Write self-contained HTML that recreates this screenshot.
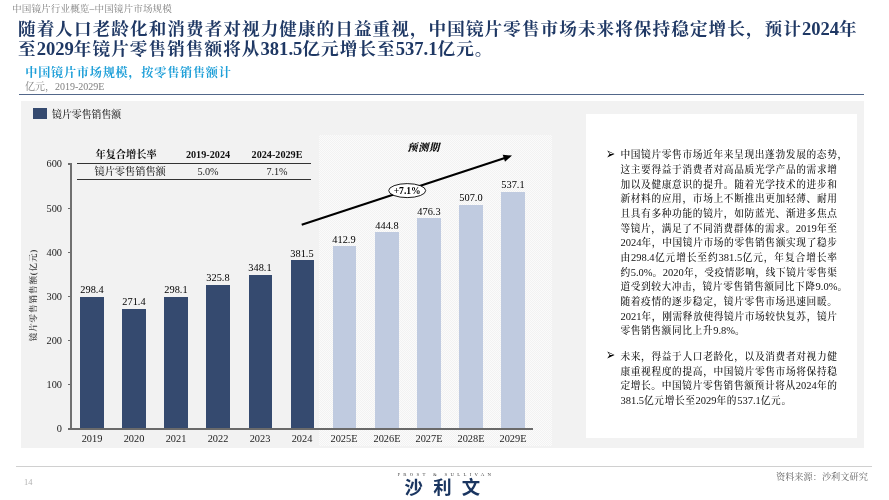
<!DOCTYPE html>
<html lang="zh-CN">
<head>
<meta charset="utf-8">
<title>中国镜片市场规模</title>
<style>
*{margin:0;padding:0;box-sizing:border-box}
html,body{width:889px;height:500px;background:#fff;overflow:hidden}
body{position:relative;font-family:"Liberation Serif","Noto Serif CJK SC",serif;color:#000}
.abs{position:absolute;white-space:nowrap}
#crumb{left:12px;top:2px;font-size:9.6px;line-height:14px;color:#7f7f7f;letter-spacing:0.1px}
#title{left:18px;top:18.7px;width:860px;font-size:17.6px;line-height:20.5px;font-weight:700;color:#1f3864;letter-spacing:1.07px}
#title div{height:20.5px;white-space:nowrap}
#title b{font-size:18.6px;letter-spacing:0;font-weight:700;line-height:20.5px;vertical-align:baseline}
#sub{left:25.3px;top:64.2px;font-size:12.1px;line-height:18px;font-weight:bold;color:#1e9fd8;letter-spacing:0.8px}
#unit{left:25px;top:80px;font-size:10px;line-height:14px;color:#7f7f7f}
#rule{left:19px;top:93.9px;width:845.2px;height:1.1px;background:#52678a}
#panel{left:21px;top:101px;width:843px;height:346.5px;background:#f2f2f2}
#fc{left:319.4px;top:135px;width:232.4px;height:311px;background-color:#f2f2f2;background-image:linear-gradient(45deg,#fbfbfb 25%,rgba(255,255,255,0) 25%,rgba(255,255,255,0) 75%,#fbfbfb 75%),linear-gradient(45deg,#fbfbfb 25%,rgba(255,255,255,0) 25%,rgba(255,255,255,0) 75%,#fbfbfb 75%);background-size:2px 2px;background-position:0 0,1px 1px}
#white{left:586px;top:114px;width:271px;height:324px;background:#fff}
#lgsq{left:33px;top:108px;width:14px;height:11px;background:#354a6f}
#lgtx{left:52px;top:106.7px;font-size:9.9px;line-height:15px;color:#1a1a1a;letter-spacing:0px;font-weight:500}
.bar{position:absolute;width:23.6px;background:#354a6f}
.bar.l{background:#c0cbe0}
.v{position:absolute;width:42px;text-align:center;font-size:11.2px;line-height:12px;color:#000;transform:scaleX(0.925)}
.x{position:absolute;width:42px;text-align:center;font-size:11.2px;line-height:12px;color:#1c1c1c;top:432.4px;transform:scaleX(0.925)}
.y{position:absolute;width:30px;text-align:right;font-size:11.2px;line-height:12px;color:#1c1c1c;left:32.3px;transform:scaleX(0.925);transform-origin:100% 50%}
.tk{position:absolute;left:67.8px;width:4px;height:1.3px;background:#6a6a6a}
#yax{left:70.4px;top:163.2px;width:1.35px;height:266.3px;background:#707070}
#xax{left:70.4px;top:428.1px;width:463px;height:1.45px;background:#6a6a6a}
#ytitle{left:33px;top:295.2px;width:0;height:0}
#ytitle span{position:absolute;white-space:nowrap;font-size:8.5px;font-weight:600;line-height:10px;transform:translate(-50%,-50%) rotate(-90deg);left:0;top:0;color:#404040;letter-spacing:0.95px}
.th{position:absolute;white-space:nowrap;font-size:10.2px;line-height:14px;font-weight:bold;text-align:center;color:#111}
.td{position:absolute;white-space:nowrap;font-size:10.2px;line-height:14px;text-align:center;color:#222;font-weight:500}
.tl{position:absolute;left:77px;width:234px;height:1.1px;background:#333}
#txt{left:608px;top:148.2px;width:240px;font-size:9.7px;line-height:14.68px;color:#111;font-weight:500;letter-spacing:0.5px;white-space:nowrap}
#txt .p{position:relative;padding-left:12.4px}
#txt .p+.p{margin-top:11.1px}
#txt .ln{width:217.1px;height:14.68px;text-align:justify;text-align-last:justify;white-space:nowrap}
#txt .n{font-size:10.5px;letter-spacing:0}
#txt .h{display:inline-block;width:0;text-align:left;text-align-last:left}
#txt .ln.last{text-align:left;text-align-last:left;letter-spacing:0.62px}
#txt .p i{position:absolute;left:-1.6px;top:-1.6px;font-style:normal;font-size:16px;line-height:14.68px;font-family:"DejaVu Sans",sans-serif;transform:scaleX(0.68);transform-origin:0 50%;color:#000}
#frule{left:16px;top:466px;width:856px;height:1px;background:#d0d0d0}
#pg{left:24px;top:478.1px;font-size:8.4px;line-height:10px;color:#b0b0b0}
#src{left:776px;top:471px;font-size:9.2px;line-height:13px;color:#666}
#fs{left:397.4px;top:470.6px;width:100px;text-align:left;font-size:4.8px;line-height:7px;letter-spacing:3.28px;color:#444}
#slw{left:404.6px;top:478.2px;width:90px;font-family:"Liberation Sans","Noto Sans CJK SC",sans-serif;font-weight:700;font-size:18.4px;line-height:20px;letter-spacing:10.2px;color:#1a3560}
</style>
</head>
<body>
<div id="crumb" class="abs">中国镜片行业概览–中国镜片市场规模</div>
<div id="title" class="abs"><div>随着人口老龄化和消费者对视力健康的日益重视，中国镜片零售市场未来将保持稳定增长，预计<b>2024</b>年</div><div>至<b>2029</b>年镜片零售销售额将从<b>381.5</b>亿元增长至<b>537.1</b>亿元。</div></div>
<div id="sub" class="abs">中国镜片市场规模，按零售销售额计</div>
<div id="unit" class="abs">亿元，2019-2029E</div>
<div id="rule" class="abs"></div>
<div id="panel" class="abs"></div>
<div id="fc" class="abs"></div>
<div id="white" class="abs"></div>
<div id="lgsq" class="abs"></div>
<div id="lgtx" class="abs">镜片零售销售额</div>

<div id="chart">
<div class="tk" style="top:428.3px"></div><div class="y" style="top:422.3px">0</div>
<div class="tk" style="top:384.1px"></div><div class="y" style="top:378.1px">100</div>
<div class="tk" style="top:340.0px"></div><div class="y" style="top:334.0px">200</div>
<div class="tk" style="top:295.8px"></div><div class="y" style="top:289.8px">300</div>
<div class="tk" style="top:251.6px"></div><div class="y" style="top:245.6px">400</div>
<div class="tk" style="top:207.5px"></div><div class="y" style="top:201.5px">500</div>
<div class="tk" style="top:163.3px"></div><div class="y" style="top:157.3px">600</div>
<div class="bar" style="left:80.05px;top:297.0px;height:131.8px"></div>
<div class="v" style="left:70.7px;top:283.3px">298.4</div>
<div class="x" style="left:70.7px">2019</div>
<div class="bar" style="left:122.18px;top:308.9px;height:119.9px"></div>
<div class="v" style="left:112.8px;top:295.2px">271.4</div>
<div class="x" style="left:112.8px">2020</div>
<div class="bar" style="left:164.31px;top:297.1px;height:131.7px"></div>
<div class="v" style="left:154.9px;top:283.4px">298.1</div>
<div class="x" style="left:154.9px">2021</div>
<div class="bar" style="left:206.44px;top:284.9px;height:143.9px"></div>
<div class="v" style="left:197.0px;top:271.2px">325.8</div>
<div class="x" style="left:197.0px">2022</div>
<div class="bar" style="left:248.57px;top:275.1px;height:153.7px"></div>
<div class="v" style="left:239.2px;top:261.4px">348.1</div>
<div class="x" style="left:239.2px">2023</div>
<div class="bar" style="left:290.70px;top:260.3px;height:168.5px"></div>
<div class="v" style="left:281.3px;top:246.6px">381.5</div>
<div class="x" style="left:281.3px">2024</div>
<div class="bar l" style="left:332.83px;top:246.4px;height:182.4px"></div>
<div class="v" style="left:323.4px;top:232.7px">412.9</div>
<div class="x" style="left:323.4px">2025E</div>
<div class="bar l" style="left:374.96px;top:232.3px;height:196.5px"></div>
<div class="v" style="left:365.6px;top:218.6px">444.8</div>
<div class="x" style="left:365.6px">2026E</div>
<div class="bar l" style="left:417.09px;top:218.4px;height:210.4px"></div>
<div class="v" style="left:407.7px;top:204.7px">476.3</div>
<div class="x" style="left:407.7px">2027E</div>
<div class="bar l" style="left:459.22px;top:204.9px;height:223.9px"></div>
<div class="v" style="left:449.8px;top:191.2px">507.0</div>
<div class="x" style="left:449.8px">2028E</div>
<div class="bar l" style="left:501.35px;top:191.6px;height:237.2px"></div>
<div class="v" style="left:492.0px;top:177.9px">537.1</div>
<div class="x" style="left:492.0px">2029E</div>
<div id="yax" class="abs"></div><div id="xax" class="abs"></div>
<div id="ytitle" class="abs"><span>镜片零售销售额(亿元)</span></div>
<div class="th" style="left:95.5px;top:147.9px;width:60px">年复合增长率</div>
<div class="th" style="left:178px;top:147.5px;width:60px">2019-2024</div>
<div class="th" style="left:245px;top:147.5px;width:64px">2024-2029E</div>
<div class="tl" style="top:163.3px"></div><div class="tl" style="top:179px"></div>
<div class="td" style="left:94.5px;top:165.3px;width:70px">镜片零售销售额</div>
<div class="td" style="left:178px;top:164.7px;width:60px">5.0%</div>
<div class="td" style="left:245px;top:164.7px;width:64px">7.1%</div>
<svg class="abs" style="left:0;top:0" width="889" height="500" viewBox="0 0 889 500">
<line x1="301.7" y1="224.8" x2="504.8" y2="158.0" stroke="#000" stroke-width="2.15"/>
<polygon points="512.0,155.6 505.0,161.8 502.7,154.8" fill="#000"/>
<ellipse cx="407.2" cy="190.6" rx="18.5" ry="7" fill="#fff" stroke="#000" stroke-width="0.9"/>
<text x="407.2" y="193.8" text-anchor="middle" font-family="Liberation Serif, serif" font-weight="bold" font-size="9.6px" fill="#000">+7.1%</text>
<text x="423.4" y="151.2" text-anchor="middle" font-family="'Liberation Serif','Noto Serif CJK SC',serif" font-weight="900" font-style="italic" font-size="10.4px" letter-spacing="0.6" fill="#111">预测期</text>
</svg>
</div><!--/chart-->

<div id="txt" class="abs">
<div class="p"><i>➢</i>
<div class="ln">中国镜片零售市场近年来呈现出蓬勃发展的态势<span class="h">，</span></div>
<div class="ln">这主要得益于消费者对高品质光学产品的需求增</div>
<div class="ln">加以及健康意识的提升。随着光学技术的进步和</div>
<div class="ln">新材料的应用，市场上不断推出更加轻薄、耐用</div>
<div class="ln">且具有多种功能的镜片，如防蓝光、渐进多焦点</div>
<div class="ln">等镜片，满足了不同消费群体的需求。<span class="n">2019</span>年至</div>
<div class="ln"><span class="n">2024</span>年，中国镜片市场的零售销售额实现了稳步</div>
<div class="ln">由<span class="n">298.4</span>亿元增长至约<span class="n">381.5</span>亿元，年复合增长率</div>
<div class="ln">约<span class="n">5.0%</span>。<span class="n">2020</span>年，受疫情影响，线下镜片零售渠</div>
<div class="ln">道受到较大冲击，镜片零售销售额同比下降<span class="n">9.0%</span><span class="h">。</span></div>
<div class="ln">随着疫情的逐步稳定，镜片零售市场迅速回暖。</div>
<div class="ln"><span class="n">2021</span>年，刚需释放使得镜片市场较快复苏，镜片</div>
<div class="ln last">零售销售额同比上升<span class="n">9.8%</span>。</div>
</div>
<div class="p"><i>➢</i>
<div class="ln">未来，得益于人口老龄化，以及消费者对视力健</div>
<div class="ln">康重视程度的提高，中国镜片零售市场将保持稳</div>
<div class="ln">定增长。中国镜片零售销售额预计将从<span class="n">2024</span>年的</div>
<div class="ln last"><span class="n">381.5</span>亿元增长至<span class="n">2029</span>年的<span class="n">537.1</span>亿元。</div>
</div>
</div>

<div id="frule" class="abs"></div>
<div id="pg" class="abs">14</div>
<div id="fs" class="abs">FROST &amp; SULLIVAN</div>
<div id="slw" class="abs">沙利文</div>
<div id="src" class="abs">资料来源：沙利文研究</div>
</body>
</html>
